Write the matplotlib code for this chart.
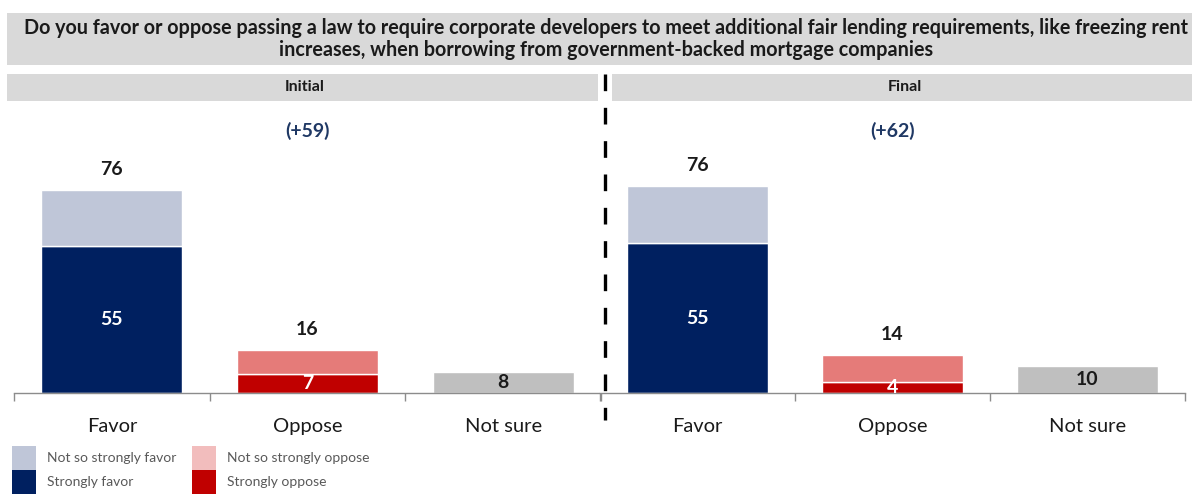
import matplotlib.pyplot as plt
from matplotlib.patches import Rectangle, Patch
from matplotlib.lines import Line2D

plt.rcParams['font.family'] = ['Lato', 'DejaVu Sans']

categories = ["Favor", "Oppose", "Not sure"]
panels = ["Initial", "Final"]
nets = ["(+59)", "(+62)"]

# strong / total per panel (Not sure has only a total)
initial_strong = [55, 7]
initial_total = [76, 16, 8]
final_strong = [55, 4]
final_total = [76, 14, 10]

question = ("Do you favor or oppose passing a law to require corporate developers to meet additional "
            "fair lending requirements, like freezing rent\nincreases, when borrowing from "
            "government-backed mortgage companies")

NAVY = "#002060"
LIGHT_NAVY = "#BFC6D8"
RED = "#C00000"
LIGHT_RED = "#E57B79"
LEGEND_LIGHT_RED = "#F2BDBD"
GRAY = "#BFBFBF"
BAND = "#D9D9D9"
NET_BLUE = "#1F3864"

W, H = 1192, 494
fig = plt.figure(figsize=(W / 100, H / 100), dpi=100)


def fx(px):
    return px / W


def fy(py):
    return 1 - py / H


# header bands
fig.patches.append(Rectangle((fx(7), fy(65)), fx(1192 - 7), 52 / H, transform=fig.transFigure,
                             facecolor=BAND, edgecolor="none"))
fig.text(fx(606), fy(39), question, ha="center", va="center", fontsize=14.2, fontweight="bold",
         color="#1a1a1a", linespacing=1.15)
fig.patches.append(Rectangle((fx(7), fy(101)), fx(598 - 7), 27 / H, transform=fig.transFigure,
                             facecolor=BAND, edgecolor="none"))
fig.patches.append(Rectangle((fx(612), fy(101)), fx(1192 - 612), 27 / H, transform=fig.transFigure,
                             facecolor=BAND, edgecolor="none"))
fig.text(fx(305), fy(87), panels[0], ha="center", va="center", fontsize=11.5, fontweight="bold", color="#1a1a1a")
fig.text(fx(905), fy(87), panels[1], ha="center", va="center", fontsize=11.5, fontweight="bold", color="#1a1a1a")

# dashed divider
fig.lines.append(Line2D([fx(605), fx(605)], [fy(74), fy(420)], transform=fig.transFigure,
                        color="black", linewidth=2.4, dashes=(5, 5)))


def draw_panel(left_px, width_px, ymax, strong, total, net):
    ax = fig.add_axes([fx(left_px), fy(393), fx(width_px), (393 - 110) / H])
    light = [total[0] - strong[0], total[1] - strong[1]]
    bw = 0.72
    ax.bar([0], [strong[0]], width=bw, color=NAVY, edgecolor="white", linewidth=1)
    ax.bar([0], [light[0]], bottom=[strong[0]], width=bw, color=LIGHT_NAVY, edgecolor="white", linewidth=1)
    ax.bar([1], [strong[1]], width=bw, color=RED, edgecolor="white", linewidth=1)
    ax.bar([1], [light[1]], bottom=[strong[1]], width=bw, color=LIGHT_RED, edgecolor="white", linewidth=1)
    ax.bar([2], [total[2]], width=bw, color=GRAY, edgecolor="white", linewidth=1)

    # totals above Favor / Oppose
    for i in (0, 1):
        ax.annotate(str(total[i]), (i, total[i]), xytext=(0, 15), textcoords="offset points",
                    ha="center", va="center", fontsize=14, fontweight="bold", color="#1a1a1a")
    # strong values inside
    ax.text(0, strong[0] / 2, str(strong[0]), ha="center", va="center", fontsize=14,
            fontweight="bold", color="white")
    ax.text(1, strong[1] / 2, str(strong[1]), ha="center", va="center", fontsize=14,
            fontweight="bold", color="white")
    ax.text(2, total[2] / 2, str(total[2]), ha="center", va="center", fontsize=14,
            fontweight="bold", color="#1a1a1a")
    ax.text(1, (393 - 131) / 283, net, transform=ax.get_xaxis_transform(), ha="center", va="center",
            fontsize=14, fontweight="bold", color=NET_BLUE)

    ax.set_xlim(-0.5, 2.5)
    ax.set_ylim(0, ymax)
    ax.set_xticks([-0.5, 0.5, 1.5, 2.5])
    ax.set_xticklabels([])
    ax.set_xticks([0, 1, 2], minor=True)
    ax.set_xticklabels(categories, minor=True, fontsize=14.5, color="#1a1a1a")
    ax.tick_params(axis="x", which="major", length=6, color="#8c8c8c", width=1, direction="out")
    ax.tick_params(axis="x", which="minor", length=0, pad=18)
    ax.set_yticks([])
    for s in ("top", "right", "left"):
        ax.spines[s].set_visible(False)
    ax.spines["bottom"].set_color("#8c8c8c")
    ax.spines["bottom"].set_linewidth(1)
    return ax


draw_panel(14, 587, 106, initial_strong, initial_total, nets[0])
draw_panel(600, 585, 104, final_strong, final_total, nets[1])

handles = [Patch(facecolor=LIGHT_NAVY), Patch(facecolor=NAVY),
           Patch(facecolor=LEGEND_LIGHT_RED), Patch(facecolor=RED)]
labels = ["Not so strongly favor", "Strongly favor", "Not so strongly oppose", "Strongly oppose"]
fig.legend(handles, labels, ncol=2, loc="lower left", bbox_to_anchor=(fx(12), 0.0),
           frameon=False, fontsize=10, labelcolor="#595959", handlelength=1.7, handleheight=2.3,
           handletextpad=0.85, columnspacing=1.1, labelspacing=0.0, borderaxespad=0.0,
           borderpad=0.0)

fig.savefig("out.png", dpi=100)
